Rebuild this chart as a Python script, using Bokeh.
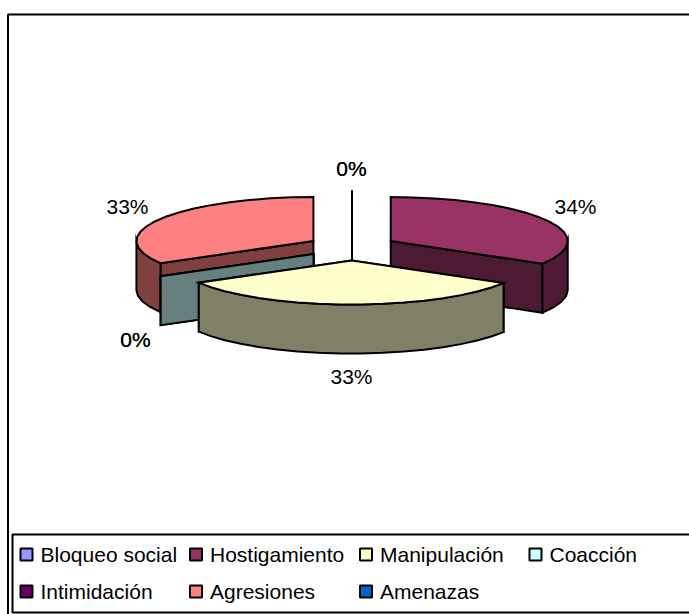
import math
from bokeh.plotting import figure
from bokeh.models import Range1d
from bokeh.core.properties import value
from bokeh.embed import file_html
from bokeh.resources import INLINE

categories = ["Bloqueo social", "Hostigamiento", "Manipulación", "Coacción", "Intimidación", "Agresiones", "Amenazas"]
shares = [0, 33.6, 33.0, 0, 0, 33.4, 0]
top_colors = ["#9999FF", "#993366", "#FFFFCC", "#CCFFFF", "#660066", "#FF8080", "#0066CC"]
wall_colors = ["#4D4D80", "#4D1A33", "#808066", "#668080", "#330033", "#804040", "#003366"]

# layout (reference pixels)
CX, CY = 351.5, 247.0
RX, RY = 177.0, 44.0
EX, EY = 44.5, 13.0
DEPTH = 49.0
STEP = 7.0
FONT = value("Liberation Sans")
FS = "21px"
LW = 2.0
label_pos = [(351, 168), (575, 206), (351, 376), (135, 339), (135, 339), (127, 206), (351, 168)]
legend_slots = [(26, 554), (195.5, 554), (365.5, 554), (535, 554), (26, 591), (195.5, 591), (365.5, 591)]

p = figure(width=689, height=614, x_range=Range1d(0, 689), y_range=Range1d(614, 0),
           toolbar_location=None, output_backend="svg", min_border=0,
           x_axis_type=None, y_axis_type=None, outline_line_color=None)
p.xgrid.visible = False
p.ygrid.visible = False
p.background_fill_color = "white"
p.border_fill_color = "white"


def pt(apex, deg, r=1.0):
    t = math.radians(deg)
    return apex[0] + RX * r * math.sin(t), apex[1] - RY * r * math.cos(t)


def arc(apex, a0, a1):
    n = max(1, int(round(abs(a1 - a0) / STEP)))
    return [pt(apex, a0 + (a1 - a0) * i / n) for i in range(n + 1)]


def poly(points, fill):
    p.patch([q[0] for q in points], [q[1] for q in points], fill_color=fill,
            line_color="black", line_width=LW, line_join="miter")


def down(points):
    return [(x, y + DEPTH) for x, y in points]


# slice geometry from the shares
total = sum(shares)
slices = []
cum = 0.0
for i, s in enumerate(shares):
    a0 = cum / total * 360.0
    cum += s
    a1 = cum / total * 360.0
    mid = math.radians((a0 + a1) / 2)
    slices.append(dict(i=i, a0=a0, a1=a1, apex=(CX + EX * math.sin(mid), CY - EY * math.cos(mid))))


def draw(sl):
    i, a0, a1, apex = sl["i"], sl["a0"], sl["a1"], sl["apex"]
    if a1 - a0 < 1e-9:
        o = pt(apex, a0)
        if math.cos(math.radians(a0)) > 0:
            p.line([apex[0], o[0]], [apex[1] + DEPTH, o[1]], line_color="black", line_width=LW)
        else:
            poly([apex, o, (o[0], o[1] + DEPTH), (apex[0], apex[1] + DEPTH)], wall_colors[i])
        return
    # radial walls that face the viewer
    for ang in (a0, a1):
        if math.cos(math.radians(ang)) < 0:
            o = pt(apex, ang)
            poly([apex, o, (o[0], o[1] + DEPTH), (apex[0], apex[1] + DEPTH)], wall_colors[i])
    # outer rim: visible part, lower half of the ellipse
    lo, hi = max(a0, 90.0), min(a1, 270.0)
    if hi > lo:
        rim = arc(apex, lo, hi)
        poly(rim + down(rim)[::-1], wall_colors[i])
    poly([apex] + arc(apex, a0, a1), top_colors[i])


# frame and legend box
p.line([7.5, 7.5, 689], [614, 14, 14], line_color="black", line_width=LW)
p.line([689, 12, 12, 689], [534, 534, 612, 612], line_color="black", line_width=LW)

# painter's order: back to front
order = [0, 6, 1, 5, 4, 3, 2]
for k in order:
    draw(slices[k])

# data labels
for i, s in enumerate(shares):
    x, y = label_pos[i]
    p.text([x], [y], text=[f"{s:.0f}%"], text_font=FONT, text_font_size=FS,
           text_align="center", text_baseline="middle", text_color="black")

# legend
for i, name in enumerate(categories):
    x, y = legend_slots[i]
    p.quad(left=[x - 6], right=[x + 6], top=[y - 6], bottom=[y + 6],
           fill_color=top_colors[i], line_color="black", line_width=LW)
    p.text([x + 14], [y], text=[name], text_font=FONT, text_font_size=FS,
           text_align="left", text_baseline="middle", text_color="black")

open("out.html", "w").write(file_html(p, INLINE))
